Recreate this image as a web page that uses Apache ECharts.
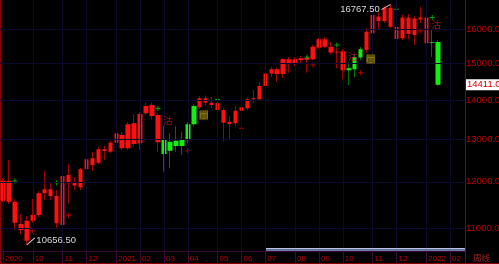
<!DOCTYPE html>
<html><head><meta charset="utf-8">
<script src="https://cdn.jsdelivr.net/npm/echarts@6/dist/echarts.min.js"></script>
<style>html,body{margin:0;padding:0;background:#000;}#c{width:499px;height:264px;}</style>
</head><body><div id="c"></div>
<script>
// Weekly bars (week starting dates); last 4 slots are empty future weeks
const weeks = [
'2020-08-24','2020-08-31','2020-09-07','2020-09-14','2020-09-21','2020-09-28','2020-10-05','2020-10-12','2020-10-19','2020-10-26',
'2020-11-02','2020-11-09','2020-11-16','2020-11-23','2020-11-30','2020-12-07','2020-12-14','2020-12-21','2020-12-28',
'2021-01-04','2021-01-11','2021-01-18','2021-01-25','2021-02-01','2021-02-08','2021-02-15','2021-02-22',
'2021-03-01','2021-03-08','2021-03-15','2021-03-22','2021-03-29','2021-04-05','2021-04-12','2021-04-19','2021-04-26',
'2021-05-03','2021-05-10','2021-05-17','2021-05-24','2021-05-31','2021-06-07','2021-06-14','2021-06-21','2021-06-28',
'2021-07-05','2021-07-12','2021-07-19','2021-07-26','2021-08-02','2021-08-09','2021-08-16','2021-08-23','2021-08-30',
'2021-09-06','2021-09-13','2021-09-20','2021-09-27','2021-10-04','2021-10-11','2021-10-18','2021-10-25',
'2021-11-01','2021-11-08','2021-11-15','2021-11-22','2021-11-29','2021-12-06','2021-12-13','2021-12-20','2021-12-27',
'2022-01-03','2022-01-10','2022-01-17','2022-01-24','2022-01-31','2022-02-07','2022-02-14'];

const opens  = [11581,12026,11559,11083,10740,11152,11273,11743,11833,11684,11062,12156,11981,11879,12287,12545,12441,12760,12702,
12920,13109,12784,13401,12905,13657,13872,13612,12986,12726,12969,12839,12986,13376,13812,14048,13932,13916,13741,13384,13401,
13723,13785,14021,14021,14379,14722,14836,14704,15120,14987,15100,15157,15120,15454,15701,15483,15318,15350,14810,14836,15171,
15388,15880,16388,16254,16662,16079,15733,16363,15829,16363,16363,15620,15621];
const closes = [12026,11559,11110,10958,11152,11273,11743,11833,11684,11098,12133,11967,11918,12287,12522,12388,12760,12719,12920,
13151,12784,13376,12888,13638,13846,13587,12930,12647,12944,12839,12986,13376,13846,14048,13932,13872,13741,13417,13442,13723,
13811,14021,14048,14379,14722,14836,14704,15120,14995,15120,15148,15110,15483,15701,15483,15318,15335,14810,14866,15186,15409,
15927,16440,16254,16662,16079,15711,16363,15859,16331,16301,15585,15600,14411];
const lows   = [11552,11509,10958,10876,10656.5,11104,11230,11596,11596,11000,11020,11520,11817,11817,12103,12255,12411,12505,12671,
12522,12743,12743,12839,12743,13612,13503,12702,12232,12310,12702,12623,12905,13320,13767,13846,13793,13401,12954,13003,13333,
13663,13741,13924,13977,14324,14623,14494,14596,14742,14930,14987,14742,15100,15417,15446,15260,14866,14560,14405,14615,15100,
15301,15860,15979,16191,16040,15650,15680,15701,15534,16191,15504,15190,14380];
const highs  = [12087,12505,11618,11294,11252,11618,11795,12255,11974,11817,12202,12411,12110,12317,12552,12702,12815,12839,12962,
13208,13183,13434,13638,13689,13932,13932,13663,13343,13151,13318,13191,13434,13898,14109,14122,14090,13977,13793,13587,13846,
14048,14070,14270,14494,14790,14909,14886,15157,15186,15186,15214,15200,15534,15740,15769,15621,15446,15417,15043,15260,15475,
16040,16490,16521,16726,16767.5,16191,16440,16472,16409,16700,16490,15990,15680];
// system state per bar: R = long (red), G = short (green)
const regime = ['R','R','R','R','R','R','R','R','R','R','R','R','R','R','R','R','R','R','R','R','R','R','R','R','R','R','R',
'G','G','G','G','G','G','R','R','R','R','R','R','R','R','R','R','R','R','R','R','R','R','R','R','R','R','R','R','R','R','R',
'G','G','G','R','R','R','R','R','R','R','R','R','R','R','G','G'];

const monthTicks = [[0,'2020'],[5,'10'],[10,'11'],[14,'12'],[19,'2021'],[23,'02'],[27,'03'],[31,'04'],[36,'05'],[40,'06'],
[44,'07'],[49,'08'],[53,'09'],[57,'10'],[62,'11'],[66,'12'],[71,'2022'],[75,'02']];
const priceTicks = [11000,12000,13000,14000,15000,16000];
const upMarks = [[2,12019],[9,11981],[26,13780],[36,14016],[51,15177],[56,15534],[66,16615],[72,16363]];
const downMarks = [[5,10943],[11,11269],[31,12726],[40,13276],[52,14959],[60,14743],[70,15958]];
const sellSignals = [27,58,72];
const buySignals = [33,61];

const yMin = 10533, yMax = 16909;
const tickMap = {}; monthTicks.forEach(t => tickMap[t[0]] = t[1]);
const isTick = (i) => tickMap[i] !== undefined;

const C = {
  upBody:'#ff1010', upWick:'#a00000', dnBody:'#10f010', dnWick:'#007000',
  grid:'#0a0a30', axisRed:'#8a0000', label:'#c00000', xline:'#3a0a3a'
};

const wickData = [], bodyData = [];
for (let i = 0; i < opens.length; i++) {
  const v = [opens[i], closes[i], lows[i], highs[i]];
  const red = regime[i] === 'R';
  const w = red ? C.upWick : C.dnWick, b = red ? C.upBody : C.dnBody;
  wickData.push({value: v, itemStyle: {color: w, color0: w, borderColor: w, borderColor0: w, borderWidth: 1}});
  bodyData.push({value: v, itemStyle: {color: b, color0: b, borderColor: b, borderColor0: b, borderWidth: 0}});
}

let hiIdx = 0, loIdx = 0;
highs.forEach((h, i) => { if (h > highs[hiIdx]) hiIdx = i; });
lows.forEach((l, i) => { if (l < lows[loIdx]) loIdx = i; });
const lastIdx = closes.length - 1;

const font = '"Liberation Sans", Arial, sans-serif';
const plus = 'path://M2,0H3V2H5V3H3V5H2V3H0V2H2Z';

const chart = echarts.init(document.getElementById('c'), null, {renderer: 'canvas'});
chart.setOption({
  backgroundColor: '#000',
  animation: false,
  grid: {left: 0, top: 0, width: 465, height: 251, containLabel: false},
  xAxis: {
    type: 'category', data: weeks, boundaryGap: true,
    axisLine: {show: true, lineStyle: {color: C.xline, width: 1}},
    axisTick: {show: true, alignWithLabel: true, interval: (i) => isTick(i), length: 12, lineStyle: {color: C.xline}},
    axisLabel: {interval: (i) => isTick(i), formatter: (v, i) => tickMap[i] || '', align: 'left', padding: [0,0,0,2],
      color: C.label, fontSize: 8, fontFamily: font, margin: 4},
    splitLine: {show: false}
  },
  yAxis: {
    type: 'log', logBase: 10, position: 'right', min: yMin, max: yMax,
    axisLine: {show: true, lineStyle: {color: C.axisRed}},
    axisTick: {show: false}, axisLabel: {show: false}, splitLine: {show: false}, minorSplitLine: {show: false}
  },
  graphic: [
    {type: 'line', shape: {x1: 0.5, y1: 0, x2: 0.5, y2: 264}, style: {stroke: C.axisRed, lineWidth: 1}, silent: true},
    {type: 'line', shape: {x1: 465.5, y1: 251, x2: 465.5, y2: 264}, style: {stroke: C.axisRed, lineWidth: 1}, silent: true},
    {type: 'line', shape: {x1: 0, y1: 263.5, x2: 499, y2: 263.5}, style: {stroke: C.axisRed, lineWidth: 1}, silent: true},
    {type: 'rect', shape: {x: 266, y: 248, width: 199, height: 3}, style: {fill: '#6874a4'}, silent: true, z: 50},
    {type: 'line', shape: {x1: 266, y1: 248.5, x2: 465, y2: 248.5}, style: {stroke: '#b8c0dc', lineWidth: 1}, silent: true, z: 51},
    {type: 'text', x: 473, y: 254, style: {text: '周线', fill: '#a82828', font: '8.5px "Noto Sans CJK SC"'}, silent: true}
  ],
  series: [
    {
      name: 'grid', type: 'line', data: [], z: 0, silent: true,
      markLine: {
        silent: true, symbol: ['none','none'], animation: false,
        lineStyle: {color: C.grid, type: 'solid', width: 1},
        data: [
          ...monthTicks.map(t => ({xAxis: weeks[t[0]], label: {show: false}})),
          ...priceTicks.map(p => ({yAxis: p, label: {show: true, position: 'end', distance: 1,
            formatter: p.toFixed(2), color: C.label, fontSize: 9.5, fontFamily: font}}))
        ]
      }
    },
    {name: 'wick', type: 'candlestick', data: wickData, barWidth: 1, z: 2, silent: true},
    {
      name: 'body', type: 'candlestick', data: bodyData, barWidth: 5, z: 3, silent: true,
      markPoint: {
        silent: true, animation: false,
        data: [
          {coord: [weeks[hiIdx], highs[hiIdx]], value: highs[hiIdx], symbol: 'path://M0,5L9,0', symbolSize: [9,5],
           symbolOffset: [-4.5, 2.5], itemStyle: {color: 'rgba(0,0,0,0)', borderColor: '#c8c8c8', borderWidth: 1},
           label: {show: true, position: 'left', distance: 1, offset: [0, 2], formatter: highs[hiIdx].toFixed(2),
             color: '#d8d8d8', fontSize: 9.5, fontFamily: font}},
          {coord: [weeks[loIdx], lows[loIdx]], value: lows[loIdx], symbol: 'path://M0,7L8,0', symbolSize: [8,7],
           symbolOffset: [4, -3.5], itemStyle: {color: 'rgba(0,0,0,0)', borderColor: '#c8c8c8', borderWidth: 1},
           label: {show: true, position: 'right', distance: 1, offset: [0, -1], formatter: lows[loIdx].toFixed(2),
             color: '#d8d8d8', fontSize: 9.5, fontFamily: font}}
        ]
      },
      markLine: {
        silent: true, symbol: ['none','none'], animation: false,
        lineStyle: {color: 'rgba(0,0,0,0)', width: 0},
        data: [{yAxis: closes[lastIdx], label: {show: true, position: 'end', distance: 1, formatter: closes[lastIdx].toFixed(2),
          color: '#e00000', backgroundColor: '#ffffff', padding: [1,1,0,1], fontSize: 9.5, fontFamily: font}}]
      }
    },
    {name: 'up', type: 'scatter', z: 4, silent: true, symbol: plus, symbolSize: 5, itemStyle: {color: '#00d000'},
      data: upMarks.map(m => [weeks[m[0]], m[1]])},
    {name: 'down', type: 'scatter', z: 4, silent: true, symbol: plus, symbolSize: 5, itemStyle: {color: '#e00000'},
      data: downMarks.map(m => [weeks[m[0]], m[1]])},
    {name: 'sell', type: 'scatter', z: 5, silent: true, symbolSize: 1, itemStyle: {color: 'rgba(0,0,0,0)'},
      label: {show: true, formatter: '沽', position: 'top', distance: 0, offset: [4, 0], color: '#c81818',
        fontSize: 9.5, fontFamily: '"Noto Sans CJK TC"'},
      data: sellSignals.map(i => [weeks[i], highs[i]])},
    {name: 'buy', type: 'scatter', z: 5, silent: true, symbolSize: 1, itemStyle: {color: 'rgba(0,0,0,0)'},
      label: {show: true, formatter: '買', position: 'bottom', distance: 1, offset: [4, 0], color: '#3a3000',
        backgroundColor: '#a89018', padding: [0,0,0,0], lineHeight: 9, fontSize: 8.5, fontFamily: '"Noto Sans CJK TC"'},
      data: buySignals.map(i => [weeks[i], lows[i]])}
  ]
});
</script>
</body></html>
